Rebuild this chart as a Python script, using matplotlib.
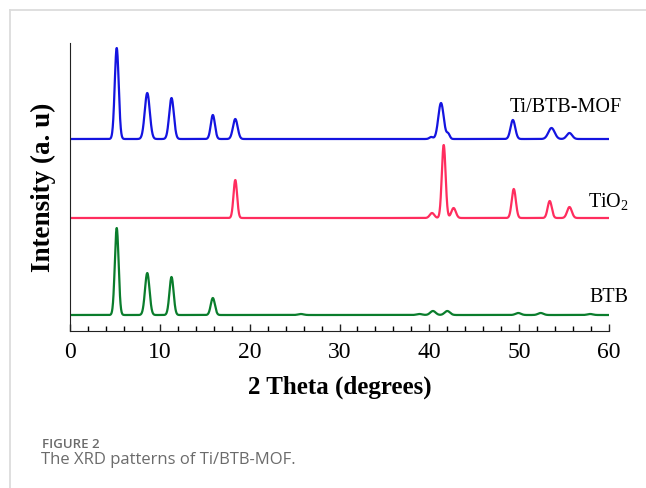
import numpy as np
import matplotlib
matplotlib.use("Agg")
import matplotlib.pyplot as plt
from matplotlib.lines import Line2D
from matplotlib.ticker import MultipleLocator

plt.rcParams["mathtext.fontset"] = "custom"
plt.rcParams["mathtext.rm"] = "Liberation Serif"
plt.rcParams["mathtext.it"] = "Liberation Serif:italic"
plt.rcParams["mathtext.bf"] = "Liberation Serif:bold"

# ---- data (2θ in degrees, intensities in arbitrary units) ----
mof_pos = [5.2, 8.6, 11.3, 15.9, 18.4, 40.2, 41.3, 42.1, 49.3, 53.6, 55.6]
mof_int = [91, 46, 41, 24, 20, 2, 36, 5, 19, 11, 6]
mof_wid = [0.22, 0.28, 0.26, 0.23, 0.26, 0.20, 0.30, 0.18, 0.26, 0.35, 0.30]

tio2_pos = [18.4, 40.3, 41.6, 42.7, 49.4, 53.4, 55.6]
tio2_int = [38, 5, 73, 10, 29, 17, 11]
tio2_wid = [0.20, 0.25, 0.21, 0.25, 0.23, 0.23, 0.26]

btb_pos = [5.2, 8.6, 11.3, 15.9, 25.7, 38.9, 40.4, 42.0, 49.9, 52.4, 57.9]
btb_int = [87, 42, 38, 17, 1, 1, 4, 4, 2, 2, 1]
btb_wid = [0.21, 0.25, 0.23, 0.23, 0.30, 0.30, 0.30, 0.30, 0.30, 0.30, 0.30]

offsets = [192, 113, 16]
labels = ["Ti/BTB-MOF", r"TiO$_\mathrm{2}$", "BTB"]
label_x = [55.2, 59.9, 60.0]
label_y = [223, 130, 34]
colors = ["#1414e0", "#ff2d5e", "#0a7d2c"]

x = np.linspace(0, 60, 4001)


def pattern(pos, inten, wid, base):
    y = np.full_like(x, float(base))
    for p, h, w in zip(pos, inten, wid):
        y += h * np.exp(-0.5 * ((x - p) / w) ** 2)
    return y


fig = plt.figure(figsize=(6.46, 4.88), dpi=100)
ax = fig.add_axes([70 / 646, 1 - 331 / 488, 539 / 646, 288 / 488])

series = [(mof_pos, mof_int, mof_wid), (tio2_pos, tio2_int, tio2_wid), (btb_pos, btb_int, btb_wid)]
for (p, h, w), base, c in zip(series, offsets, colors):
    ax.plot(x, pattern(p, h, w, base), color=c, lw=1.6)

ax.set_xlim(0, 60)
ax.set_ylim(0, 288)
ax.spines["top"].set_visible(False)
ax.spines["right"].set_visible(False)
ax.spines["left"].set_color("#222222")
ax.spines["bottom"].set_color("#222222")
ax.set_yticks([])
ax.xaxis.set_major_locator(MultipleLocator(10))
ax.xaxis.set_minor_locator(MultipleLocator(2))
ax.tick_params(axis="x", which="major", direction="in", length=5, width=1, pad=8,
               labelsize=17, colors="#222222")
ax.tick_params(axis="x", which="minor", direction="in", length=3.5, width=1)
for t in ax.get_xticklabels():
    t.set_fontfamily("Liberation Serif")
    t.set_color("black")

ax.set_xlabel("2 Theta (degrees)", fontsize=18, fontweight="bold",
              family="Liberation Serif", labelpad=9)
ax.set_ylabel("Intensity (a. u)", fontsize=19.5, fontweight="bold",
              family="Liberation Serif", labelpad=10)

# series labels
for lab, lx, ly in zip(labels, label_x, label_y):
    ax.text(lx, ly, lab, fontsize=14.5, family="Liberation Serif",
            ha="center", va="center", clip_on=False)

# card frame
fig.add_artist(Line2D([10 / 646, 10 / 646], [0, 1 - 10 / 488], transform=fig.transFigure,
                      color="#dcdcdc", lw=1.3))
fig.add_artist(Line2D([10 / 646, 1], [1 - 10 / 488, 1 - 10 / 488], transform=fig.transFigure,
                      color="#dcdcdc", lw=1.3))

# caption
fig.text(42 / 646, 1 - 444 / 488, "FIGURE 2", fontsize=9.5, fontweight="semibold",
         family="Open Sans", color="#6b6b6b", va="center", ha="left")
fig.text(41 / 646, 1 - 460 / 488, "The XRD patterns of Ti/BTB-MOF.", fontsize=12,
         family="Open Sans", color="#6b6b6b", va="center", ha="left")

fig.savefig("out.png", dpi=100, facecolor="white")
